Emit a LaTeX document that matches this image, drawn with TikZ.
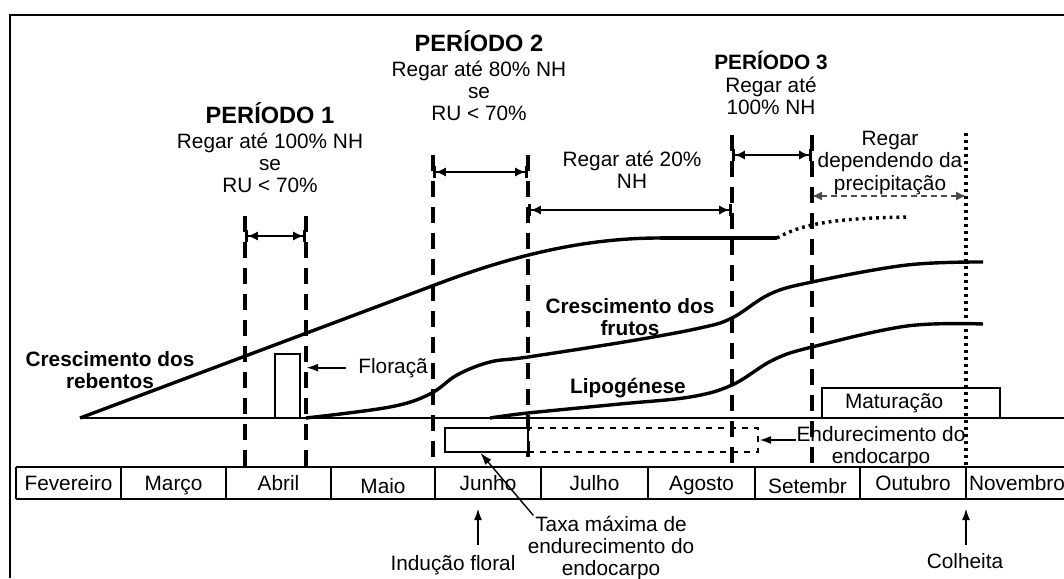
\documentclass[tikz,border=0pt]{standalone}
\usepackage{fontspec}
\setmainfont{Liberation Sans}
\usetikzlibrary{arrows.meta}

\begin{document}
\begin{tikzpicture}[
    x=0.5pt, y=-0.5pt,
    txt/.style={font=\fontsize{10.4}{11.2}\selectfont, align=center, inner sep=0pt},
    btxt/.style={font=\bfseries\fontsize{10.4}{11.2}\selectfont, align=center, inner sep=0pt},
    month/.style={font=\fontsize{10.4}{11.2}\selectfont, inner sep=0pt, anchor=base},
    tab/.style={line width=1.1pt},
    divline/.style={line width=1.8pt, dash pattern=on 8pt off 5pt},
    harvline/.style={line width=1.7pt, dash pattern=on 1.5pt off 2pt},
    growth/.style={line width=1.7pt, line join=round},
    dimarr/.style={line width=0.7pt, arrows={Bar[width=6pt,line width=1.4pt]Latex[length=5pt,width=4.5pt]-Latex[length=5pt,width=4.5pt]Bar[width=6pt,line width=1.4pt]}},
    precarr/.style={line width=0.7pt, black!70, dash pattern=on 3pt off 2pt, arrows={Latex[length=5pt,width=4.5pt]-Latex[length=5pt,width=4.5pt]}},
    ptr/.style={line width=1.1pt, -{Latex[length=6pt,width=4pt]}},
    phasebox/.style={draw, line width=1pt, inner sep=0pt}
    ]
\useasboundingbox (0,0) rectangle (1064,578);
\draw[line width=1.1pt] (10,578) -- (10,15) -- (1064,15);

\node[txt] (p1) at (270,148) {{\bfseries\fontsize{11.8}{13}\selectfont PERÍODO 1}\\[1pt]Regar até 100\% NH\\se\\RU < 70\%};
\node[txt] (p2) at (479,76) {{\bfseries\fontsize{11.8}{13}\selectfont PERÍODO 2}\\[1pt]Regar até 80\% NH\\se\\RU < 70\%};
\node[txt] (p3) at (771,83) {\textbf{PERÍODO 3}\\Regar até\\100\% NH};
\node[txt] (r20) at (632,170) {Regar até 20\%\\NH};
\node[txt] (rprec) at (890,163) {Regar\\dependendo da\\precipitação};

\foreach \n/\x/\t in {v1/245/216, v2/306/216, v3/433/155, v4/528/155, v5/732/135, v6/812/135}
  \draw[divline] (\x,\t) coordinate (\n) -- (\x,467);
\draw[harvline] (966,133) coordinate (harv) -- (966,467);

\draw[dimarr] (v1 |- 0,236) -- (v2 |- 0,236);
\draw[dimarr] (v3 |- 0,172) -- (v4 |- 0,172);
\draw[dimarr] (v5 |- 0,155) -- (v6 |- 0,155);
\draw[dimarr] (v4 |- 0,210) -- (v5 |- 0,210);
\draw[precarr] (v6 |- 0,196) -- (harv |- 0,196);

\draw[line width=1.1pt] (80,418) -- (1064,418);
\draw[growth] (80,418) -- (440,283) .. controls (520,253) and (590,238) .. (660,238);
\draw[growth, line width=2.2pt] (660,238) -- (777,238);
\draw[growth, dash pattern=on 1.4pt off 2pt] (777,238) .. controls (800,225) and (830,218) .. (910,217);
\draw[growth] plot[smooth, tension=0.6] coordinates {(306,418) (390,407) (430,394) (457,375) (490,362) (528,357) (630,341) (700,328) (732,318) (770,294) (812,282) (907,265) (983,262)};
\draw[growth] plot[smooth, tension=0.6] coordinates {(490,418) (528,413) (620,404) (690,397) (732,385) (773,360) (812,347) (907,326) (983,324)};

\node[btxt] (rebentos) at (110,370) {Crescimento dos\\rebentos};
\node[btxt] (frutos) at (630,317) {Crescimento dos\\frutos};
\node[btxt, anchor=base] (lipo) at (628,393) {Lipogénese};

\node[phasebox, minimum width=12.5pt, minimum height=32pt] (flbox) at (287.5,386) {};
\node[txt, anchor=base west] (flor) at (358,373) {Floraçã};
\draw[ptr] ([xshift=-6pt]flor.west) -- (flor.west -| v2);

\node[phasebox, inner xsep=11.5pt, text width=66pt, align=left, minimum height=15pt, font=\fontsize{10.4}{11.2}\selectfont] (matur) at (911,403) {Maturação};

\node[phasebox, dashed, minimum width=115pt, minimum height=12pt] (enddash) at (643,440) {};
\node[phasebox, fill=white, minimum width=41.5pt, minimum height=12pt] (endsolid) at (486.5,440) {};
\node[txt] (endur) at (881,447) {Endurecimento do\\endocarpo};
\draw[ptr] (endur.west |- enddash.east) -- (enddash.east);

\foreach \a/\b/\y/\m [count=\i] in {16/121/490/Fevereiro, 121/226/490/Março, 226/331/490/Abril, 331/435/493/Maio, 435/541/490/Junho, 541/648/490/Julho, 648/755/490/Agosto, 755/860/493/Setembr, 860/966/490/Outubro, 966/1068/490/Novembro} {
  \draw[tab] (\a,467) -- (\a,499);
  \node[month] (m\i) at ({(\a+\b)/2},\y) {\m};
}
\draw[tab] (16,467) -- (1064,467) (16,499) -- (1064,499);

\node[txt] (taxa) at (611,548) {Taxa máxima de\\endurecimento do\\endocarpo};
\draw[line width=0.7pt, -{Latex[length=6pt,width=4pt]}] ([xshift=3pt]taxa.north west) -- ([xshift=-3pt]endsolid.south);

\coordinate (ifl) at (478,508);
\node[txt, anchor=base] (indu) at (453,570) {Indução floral};
\draw[ptr] ([yshift=5pt]ifl |- indu.north) -- (ifl);

\coordinate (colh) at (966,508);
\node[txt, anchor=base] (colheita) at (965,568) {Colheita};
\draw[ptr] ([yshift=4pt]colh |- colheita.north) -- (colh);
\end{tikzpicture}
\end{document}
